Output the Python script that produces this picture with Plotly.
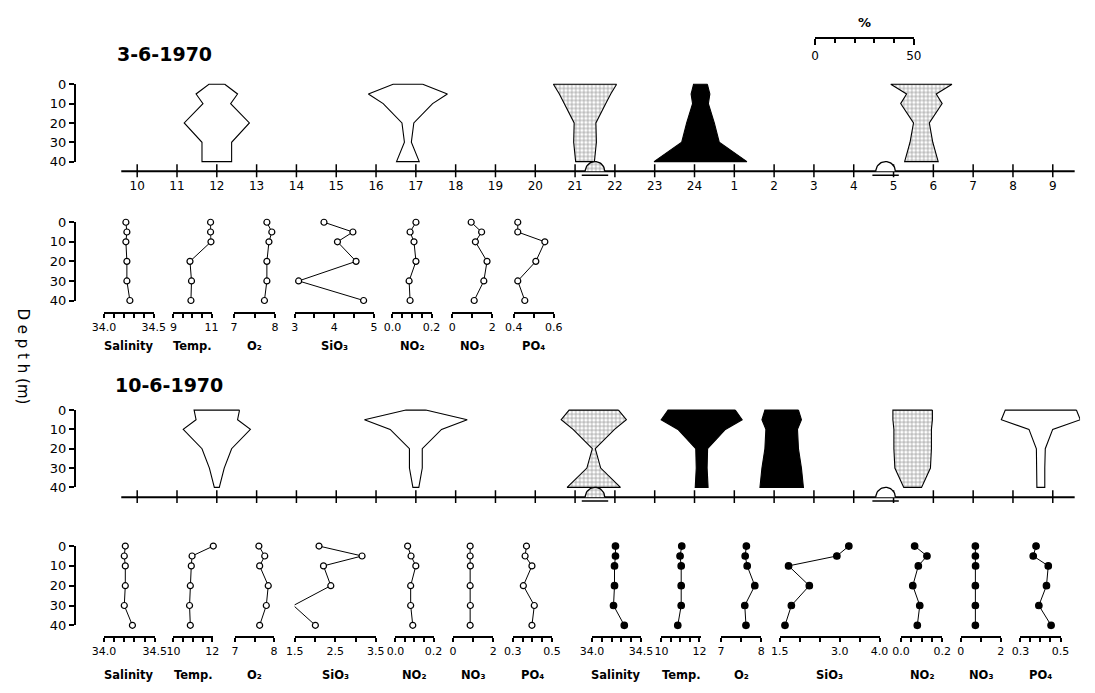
import numpy as np
import plotly.graph_objects as go

W, H = 1095, 693

# ---------------- data ----------------
hour_labels = ['10', '11', '12', '13', '14', '15', '16', '17', '18', '19', '20', '21',
               '22', '23', '24', '1', '2', '3', '4', '5', '6', '7', '8', '9']
hour_ticks = [10, 11, 12, 13, 14, 15, 16, 17, 18, 19, 20, 21,
              22, 23, 24, 25, 26, 27, 28, 29, 30, 31, 32, 33]
depth_levels = [0, 5, 10, 20, 30, 40]
depth_ticks = [0, 10, 20, 30, 40]
scale_major = [0, 50]
scale_minor = [10, 20, 30, 40]

# kite diagrams (% width at each depth), 3-6-1970
a_times = [12.0, 16.8, 21.25, 24.15, 29.7]
a_styles = ['open', 'open', 'stipple', 'black', 'stipple']
a_k1 = [8, 21, 14, 33, 15, 15]
a_k2 = [15, 40, 25, 6, 3.5, 11.5]
a_k3 = [32, 26, 21, 11, 11.5, 9.5]
a_k4 = [7, 9.5, 8, 14, 19, 47]
a_k5 = [31, 15, 21, 8, 11.5, 17]

# kite diagrams, 10-6-1970
b_times = [12.0, 17.0, 21.47, 24.18, 26.19, 29.48, 32.7]
b_styles = ['open', 'open', 'stipple', 'black', 'black', 'stipple', 'open']
b_k1 = [23, 21, 34, 15, 7.5, 2.5]
b_k2 = [10, 52, 26, 6.5, 6.5, 3]
b_k3 = [25, 33, 21, 1.5, 7, 27]
b_k4 = [34, 41, 24, 6, 5.5, 6.5]
b_k5 = [17, 20, 16, 17, 20, 22]
b_k6 = [20, 20, 19, 19, 18, 9]
b_k7 = [36, 40, 12, 4.5, 4, 4]

sun_times = [21.5, 28.8]
sun_styles = ['stipple', 'open']

# hydrography profiles, 3-6-1970
top_sal = [34.22, 34.23, 34.22, 34.23, 34.23, 34.26]
top_temp = [10.95, 10.95, 10.97, 9.87, 9.95, 9.92]
top_o2 = [7.80, 7.92, 7.85, 7.80, 7.80, 7.74]
top_sio3 = [3.74, 4.47, 4.08, 4.55, 3.10, 4.74]
top_no2 = [0.12, 0.09, 0.11, 0.12, 0.085, 0.09]
top_no3 = [0.95, 1.47, 1.16, 1.74, 1.58, 1.10]
top_po4 = [0.42, 0.42, 0.555, 0.51, 0.42, 0.455]

# 10-6-1970, first station (open circles)
bl_sal = [34.21, 34.20, 34.21, 34.21, 34.20, 34.28]
bl_temp = [12.05, 10.96, 10.92, 10.87, 10.83, 10.87]
bl_o2 = [7.61, 7.76, 7.63, 7.85, 7.80, 7.63]
bl_sio3 = [2.10, 3.16, 2.21, 2.39, 1.47, 2.01]
bl_no2 = [0.064, 0.082, 0.107, 0.080, 0.080, 0.091]
bl_no3 = [0.85, 0.85, 0.86, 0.85, 0.86, 0.85]
bl_po4 = [0.37, 0.363, 0.398, 0.354, 0.41, 0.398]

# 10-6-1970, second station (filled circles)
br_sal = [34.24, 34.24, 34.23, 34.23, 34.22, 34.33]
br_temp = [11.07, 10.98, 11.04, 11.04, 11.04, 10.86]
br_o2 = [7.63, 7.60, 7.65, 7.84, 7.59, 7.62]
br_sio3 = [3.23, 2.93, 1.72, 2.24, 1.79, 1.63]
br_no2 = [0.066, 0.126, 0.084, 0.057, 0.091, 0.079]
br_no3 = [0.73, 0.73, 0.74, 0.73, 0.73, 0.73]
br_po4 = [0.378, 0.364, 0.439, 0.43, 0.392, 0.453]

names = ['Salinity', 'Temp.', 'O₂', 'SiO₃', 'NO₂', 'NO₃', 'PO₄']

# ---------------- layout constants ----------------
HOUR0_PX = 128.0
PX_PER_HOUR = 40.7
PX_PER_PCT = 2.02
HPP = PX_PER_PCT / PX_PER_HOUR
X_LEFT, X_RIGHT = 100, 1092
AXIS_SPAN_H = (9.6, 33.55)
DEPTH_X = 64
FONT = 'DejaVu Sans'

layout = dict(width=W, height=H, margin=dict(l=0, r=0, t=0, b=0),
              paper_bgcolor='white', plot_bgcolor='rgba(0,0,0,0)',
              showlegend=False, font=dict(family=FONT, color='black', size=12),
              annotations=[])
traces = []
counter = [0]


def new_pair():
    counter[0] += 1
    i = counter[0]
    xn = 'x' if i == 1 else f'x{i}'
    yn = 'y' if i == 1 else f'y{i}'
    xk = 'xaxis' if i == 1 else f'xaxis{i}'
    yk = 'yaxis' if i == 1 else f'yaxis{i}'
    return xn, yn, xk, yk


def hidden_axis(**kw):
    d = dict(showgrid=False, zeroline=False, showline=False, ticks='',
             showticklabels=False, tickvals=[])
    d.update(kw)
    return d


def style_kw(s):
    if s == 'black':
        return dict(fillcolor='black')
    if s == 'stipple':
        return dict(fillcolor='white',
                    fillpattern=dict(shape='+', fgcolor='#303030', bgcolor='white',
                                     size=4, solidity=0.35))
    return dict(fillcolor='white')


def annot(text, xpx, ypx, size=12, xanchor='center', angle=0, weight='normal'):
    layout['annotations'].append(dict(
        text=text, x=xpx / W, y=1 - ypx / H, xref='paper', yref='paper',
        showarrow=False, xanchor=xanchor, yanchor='middle', textangle=angle,
        font=dict(family=FONT, size=size, color='black', weight=weight)))


def depth_axis(y0, y40):
    xn, yn, xk, yk = new_pair()
    layout[xk] = hidden_axis(domain=[0, 0.001], range=[0, 1], anchor=yn)
    layout[yk] = dict(domain=[1 - y40 / H, 1 - y0 / H], range=[40, 0],
                      anchor='free', position=DEPTH_X / W, side='left',
                      showline=True, linecolor='black', linewidth=1.6,
                      ticks='outside', ticklen=5, tickwidth=1.6, tickcolor='black',
                      tickvals=depth_ticks, showgrid=False, zeroline=False,
                      tickfont=dict(size=13, family=FONT))
    traces.append(go.Scatter(x=[0.5], y=[20], xaxis=xn, yaxis=yn, mode='markers',
                             marker=dict(opacity=0), hoverinfo='skip'))


def kite_panel(y0, y40, axis_px, times, widths, styles, show_labels):
    xn, yn, xk, yk = new_pair()
    ppm = (y40 - y0) / 40.0
    top_px, bot_px = y0 - 6, axis_px + 6
    ymin = (top_px - y0) / ppm
    ymax = (bot_px - y0) / ppm
    axis_m = (axis_px - y0) / ppm
    hx0 = 10 + (X_LEFT - HOUR0_PX) / PX_PER_HOUR
    hx1 = 10 + (X_RIGHT - HOUR0_PX) / PX_PER_HOUR
    if show_labels:
        layout[xk] = dict(domain=[X_LEFT / W, X_RIGHT / W], range=[hx0, hx1], anchor=yn,
                          showgrid=False, zeroline=False, showline=False, ticks='',
                          tickvals=hour_ticks, ticktext=hour_labels,
                          tickfont=dict(size=12, family=FONT))
    else:
        layout[xk] = hidden_axis(domain=[X_LEFT / W, X_RIGHT / W], range=[hx0, hx1],
                                 anchor=yn)
    layout[yk] = hidden_axis(domain=[1 - bot_px / H, 1 - top_px / H], range=[ymax, ymin],
                             anchor=xn)
    for t, w, s in zip(times, widths, styles):
        xs = [t + v / 2 * HPP for v in w] + [t - v / 2 * HPP for v in w[::-1]]
        ys = depth_levels + depth_levels[::-1]
        xs.append(xs[0])
        ys.append(ys[0])
        traces.append(go.Scatter(x=xs, y=ys, xaxis=xn, yaxis=yn, mode='lines',
                                 fill='toself', line=dict(color='black', width=1.1),
                                 hoverinfo='skip', **style_kw(s)))
    traces.append(go.Scatter(x=list(AXIS_SPAN_H), y=[axis_m, axis_m], xaxis=xn, yaxis=yn,
                             mode='lines', line=dict(color='black', width=2),
                             hoverinfo='skip'))
    traces.append(go.Scatter(x=hour_ticks, y=[axis_m] * len(hour_ticks), xaxis=xn, yaxis=yn,
                             mode='markers', hoverinfo='skip',
                             marker=dict(symbol='line-ns', size=10,
                                         line=dict(color='black', width=1.5))))
    r_px = 10
    rh, rm = r_px / PX_PER_HOUR, r_px / ppm
    th = np.linspace(0, np.pi, 25)
    for t, s in zip(sun_times, sun_styles):
        xs = list(t + rh * np.cos(th))
        ys = list(axis_m - rm * np.sin(th))
        traces.append(go.Scatter(x=xs, y=ys, xaxis=xn, yaxis=yn, mode='lines',
                                 fill='toself', line=dict(color='black', width=1.3),
                                 hoverinfo='skip', **style_kw(s)))
        traces.append(go.Scatter(x=[t - 1.35 * rh, t + 1.35 * rh],
                                 y=[axis_m + 4 / ppm] * 2, xaxis=xn, yaxis=yn,
                                 mode='lines', line=dict(color='black', width=1.6),
                                 hoverinfo='skip'))


def profile(x0, x1, y0, y40, bracket, spec, values, name, name_px, filled):
    rng, major, text, minor = spec
    xn, yn, xk, yk = new_pair()
    layout[xk] = dict(domain=[x0 / W, x1 / W], range=rng, anchor='free',
                      position=1 - bracket / H, showline=True, linecolor='black',
                      linewidth=1.6, ticks='outside', ticklen=4, tickwidth=1.5,
                      tickcolor='black', tickvals=major, ticktext=text, showgrid=False,
                      zeroline=False, tickfont=dict(size=11, family=FONT),
                      minor=dict(tickvals=minor, ticks='outside', ticklen=4,
                                 tickwidth=1.5, tickcolor='black', showgrid=False))
    layout[yk] = hidden_axis(domain=[1 - y40 / H, 1 - y0 / H], range=[40, 0], anchor=xn)
    traces.append(go.Scatter(
        x=values, y=depth_levels, xaxis=xn, yaxis=yn, mode='lines+markers',
        cliponaxis=False, hoverinfo='skip',
        line=dict(color='black', width=1),
        marker=dict(symbol='circle', size=6.5 if filled else 6,
                    color='black' if filled else 'white',
                    line=dict(color='black', width=1.2))))
    annot(name, (x0 + x1) / 2, name_px, size=11.5, weight='bold')


# tick specs per variable: range, labelled ticks, labels, minor ticks
SAL = ([34.0, 34.5], [34.0, 34.5], ['34.0', '34.5'], [34.1, 34.2, 34.3, 34.4])
TEMP_A = ([9, 11], [9, 11], ['9', '11'], [9.5, 10, 10.5])
TEMP_B = ([10, 12.06], [10, 12], ['10', '12'], [10.5, 11, 11.5])
O2 = ([7, 8], [7, 8], ['7', '8'], [7.5])
SIO3_A = ([3, 5], [3, 4, 5], ['3', '4', '5'], [3.5, 4.5])
SIO3_B = ([1.5, 3.5], [1.5, 2.5, 3.5], ['1.5', '2.5', '3.5'], [2, 3])
SIO3_C = ([1.5, 4.0], [1.5, 3.0, 4.0], ['1.5', '3.0', '4.0'], [2, 2.5, 3.5])
NO2 = ([0, 0.2], [0, 0.2], ['0.0', '0.2'], [0.05, 0.1, 0.15])
NO3 = ([0, 2], [0, 2], ['0', '2'], [1])
PO4_A = ([0.4, 0.6], [0.4, 0.6], ['0.4', '0.6'], [0.5])
PO4_B = ([0.3, 0.5], [0.3, 0.5], ['0.3', '0.5'], [0.35, 0.4, 0.45])

# ---------------- build ----------------
kite_panel(79, 158, 168, a_times, [a_k1, a_k2, a_k3, a_k4, a_k5], a_styles, True)
depth_axis(79, 158)

kite_panel(412, 491, 501, b_times, [b_k1, b_k2, b_k3, b_k4, b_k5, b_k6, b_k7], b_styles,
           False)
depth_axis(412, 491)

top_pos = [(94, 145), (165, 204), (227, 269), (289, 370), (389, 429), (450, 491), (513, 554)]
top_specs = [SAL, TEMP_A, O2, SIO3_A, NO2, NO3, PO4_A]
top_vals = [top_sal, top_temp, top_o2, top_sio3, top_no2, top_no3, top_po4]
for (x0, x1), spec, vals, nm in zip(top_pos, top_specs, top_vals, names):
    profile(x0, x1, 220, 300, 313, spec, vals, nm, 346, False)
depth_axis(220, 300)

bl_pos = [(94, 146), (165, 206), (228, 268), (289, 372), (392, 431), (451, 492), (512, 552)]
bl_specs = [SAL, TEMP_B, O2, SIO3_B, NO2, NO3, PO4_B]
bl_vals = [bl_sal, bl_temp, bl_o2, bl_sio3, bl_no2, bl_no3, bl_po4]
for (x0, x1), spec, vals, nm in zip(bl_pos, bl_specs, bl_vals, names):
    profile(x0, x1, 551, 632, 644, spec, vals, nm, 683, False)

br_pos = [(593, 643), (664, 704), (725, 766), (785, 887), (909, 951), (970, 1011), (1031, 1072)]
br_specs = [SAL, TEMP_B, O2, SIO3_C, NO2, NO3, PO4_B]
br_vals = [br_sal, br_temp, br_o2, br_sio3, br_no2, br_no3, br_po4]
for (x0, x1), spec, vals, nm in zip(br_pos, br_specs, br_vals, names):
    profile(x0, x1, 551, 632, 644, spec, vals, nm, 683, True)
depth_axis(551, 632)

# percentage scale bar
xn, yn, xk, yk = new_pair()
layout[xk] = dict(domain=[821 / W, (821 + 50 * PX_PER_PCT) / W], range=[0, 50],
                  anchor='free', position=1 - 32 / H, showline=True, linecolor='black',
                  linewidth=1.6, ticks='outside', ticklen=6, tickwidth=1.5,
                  tickcolor='black', tickvals=scale_major, ticktext=['0', '50'],
                  showgrid=False, zeroline=False, tickfont=dict(size=12, family=FONT),
                  minor=dict(tickvals=scale_minor, ticks='outside', ticklen=4,
                             tickwidth=1.5, tickcolor='black', showgrid=False))
layout[yk] = hidden_axis(domain=[1 - 33 / H, 1 - 30 / H], range=[0, 1], anchor=xn)
traces.append(go.Scatter(x=[25], y=[0.5], xaxis=xn, yaxis=yn, mode='markers',
                         marker=dict(opacity=0), hoverinfo='skip'))
annot('%', 872, 16, size=13, weight='bold')

# titles and labels
annot('3-6-1970', 105, 48, size=19, xanchor='left', weight='bold')
annot('10-6-1970', 103, 386, size=19, xanchor='left', weight='bold')
annot('D e p t h (m)', 11, 357, size=15, angle=90)

fig = go.Figure(data=traces, layout=layout)
fig.write_html("out.html", config={'displayModeBar': False},
               post_script="document.body.style.margin='0';document.body.style.overflow='hidden';")
